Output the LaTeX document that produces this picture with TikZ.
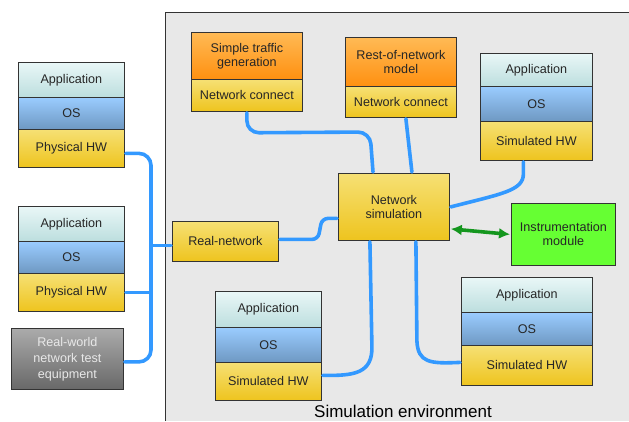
\documentclass[tikz,border=0pt]{standalone}
\usepackage{fontspec}
\setmainfont{Liberation Sans}
\usetikzlibrary{calc,arrows.meta}
\definecolor{wireblue}{HTML}{3399FF}
\definecolor{linkgreen}{HTML}{14961E}
\definecolor{envgray}{HTML}{E8E8E8}
\definecolor{boxedge}{HTML}{333333}
\definecolor{appTop}{HTML}{E9F7F7}
\definecolor{appBot}{HTML}{BCDEDE}
\definecolor{osTop}{HTML}{9ACCFF}
\definecolor{osBot}{HTML}{6E98C2}
\definecolor{hwTop}{HTML}{F6E074}
\definecolor{hwBot}{HTML}{EEC41E}
\definecolor{orTop}{HTML}{FFBA55}
\definecolor{orBot}{HTML}{FF9010}
\definecolor{instGreen}{HTML}{66FF33}
\definecolor{gyTop}{HTML}{ABABAB}
\definecolor{gyBot}{HTML}{686868}
\definecolor{gyText}{HTML}{E8E8E8}
\tikzset{
  layer/.style={draw=boxedge, line width=0.8pt, inner sep=0pt, anchor=north west,
    align=center, text=black!85, font=\fontsize{12.6}{14}\selectfont},
  applayer/.style={layer, top color=appTop, bottom color=appBot},
  oslayer/.style={layer, top color=osTop, bottom color=osBot},
  hwlayer/.style={layer, top color=hwTop, bottom color=hwBot},
  orangelayer/.style={layer, top color=orTop, bottom color=orBot},
  greenbox/.style={layer, fill=instGreen},
  graybox/.style={layer, top color=gyTop, bottom color=gyBot, text=gyText,
    font=\fontsize{12.6}{16}\selectfont},
  wire/.style={draw=wireblue, line width=3.6pt, line cap=round},
  glink/.style={draw=linkgreen, line width=3.6pt, {Latex[length=11pt,width=11pt]}-{Latex[length=11pt,width=11pt]}},
}
\begin{document}
\begin{tikzpicture}[x=1pt,y=-1pt]
\useasboundingbox (0,0) rectangle (629,421);
\fill[white] (0,0) rectangle (629,421);
% simulation environment area
\fill[envgray] (165,12) rectangle (629,421);
\draw[boxedge, line width=0.8pt] (165,421) -- (165,12) -- (629,12);
\node[font=\fontsize{17}{20}\selectfont, text=black] (envlabel) at (403,411) {Simulation environment};

% physical host 1
\node[applayer, minimum width=106pt, minimum height=35pt] (s1app) at (18,62) {Application};
\node[oslayer, minimum width=106pt, minimum height=32pt] (s1os) at (18,97) {OS};
\node[hwlayer, minimum width=106pt, minimum height=38pt] (s1hw) at (18,129) {Physical HW};
% physical host 2
\node[applayer, minimum width=106pt, minimum height=35pt] (s2app) at (18,206) {Application};
\node[oslayer, minimum width=106pt, minimum height=32pt] (s2os) at (18,241) {OS};
\node[hwlayer, minimum width=106pt, minimum height=38pt] (s2hw) at (18,273) {Physical HW};
% test equipment
\node[graybox, minimum width=112pt, minimum height=61pt] (rw) at (11,328) {Real-world\\network test\\equipment};

% real network gateway
\node[hwlayer, minimum width=106pt, minimum height=40pt] (rn) at (172,221) {Real-network};

% simple traffic generation
\node[orangelayer, minimum width=111pt, minimum height=47pt] (stg) at (191,32) {Simple traffic\\generation};
\node[hwlayer, minimum width=111pt, minimum height=32pt] (stgnc) at (191,79) {Network connect};
% rest-of-network model
\node[orangelayer, minimum width=111pt, minimum height=49pt] (ron) at (345,37) {Rest-of-network\\model};
\node[hwlayer, minimum width=111pt, minimum height=31pt] (ronnc) at (345,86) {Network connect};

% network simulation core
\node[hwlayer, minimum width=111pt, minimum height=67pt] (ns) at (338,173) {Network\\simulation};

% simulated host, top right
\node[applayer, minimum width=112pt, minimum height=33pt] (r1app) at (480,53) {Application};
\node[oslayer, minimum width=112pt, minimum height=35pt] (r1os) at (480,86) {OS};
\node[hwlayer, minimum width=112pt, minimum height=39pt] (r1hw) at (480,121) {Simulated HW};

% instrumentation
\node[greenbox, minimum width=104pt, minimum height=62pt] (im) at (511,203) {Instrumentation\\module};

% simulated host, bottom middle
\node[applayer, minimum width=106pt, minimum height=36pt] (bmapp) at (215,291) {Application};
\node[oslayer, minimum width=106pt, minimum height=35pt] (bmos) at (215,327) {OS};
\node[hwlayer, minimum width=106pt, minimum height=38pt] (bmhw) at (215,362) {Simulated HW};

% simulated host, bottom right
\node[applayer, minimum width=131pt, minimum height=35pt] (brapp) at (461,277) {Application};
\node[oslayer, minimum width=131pt, minimum height=33pt] (bros) at (461,312) {OS};
\node[hwlayer, minimum width=131pt, minimum height=40pt] (brhw) at (461,345) {Simulated HW};

% physical-side bus
\coordinate (bus) at (151,0);
\draw[wire, rounded corners=12pt] ($(s1hw.east)+(1,5)$) -- ($(bus |- s1hw.east)+(0,5)$)
  -- ($(bus |- rw.east)+(0,3)$) -- ($(rw.east)+(1,3)$);
\draw[wire] ($(s2hw.east)+(1,0)$) -- (bus |- s2hw.east);
\draw[wire] ($(rn.west)+(-1,4)$) -- ($(bus |- rn.west)+(0,4)$);

% links into the network simulation
\draw[wire, rounded corners=6pt] ($(rn.east)+(1,-2)$) -- ($(ns.west)+(-20,32.5)$)
  -- ($(ns.west)+(-16,11.5)$) -- ($(ns.west)+(-1,11.5)$);
\draw[wire, rounded corners=12pt] ($(stgnc.south)+(0,1)$) -- ($(stgnc.south)+(0,21)$)
  -- ($(ns.north west)+(32,-41)$) -- ($(ns.north west)+(35,-1)$);
\draw[wire] ($(ronnc.south)+(5,1)$) -- ($(ns.north)+(18,-1)$);
\draw[wire] ($(r1hw.south)+(-13,1)$) -- ($(r1hw.south)+(-13,13)$)
  .. controls ($(r1hw.south)+(-13,30)$) and ($(r1hw.south)+(-35,33)$) .. ($(ns.east)+(1,0)$);
\draw[wire] ($(ns.south)+(-24,1)$) -- ($(ns.south)+(-22,105)$)
  .. controls ($(ns.south)+(-21,133)$) and ($(ns.south)+(-40,135)$) .. ($(bmhw.east)+(1,-6)$);
\draw[wire] ($(ns.south)+(22,1)$) -- ($(ns.south)+(23,100)$)
  .. controls ($(ns.south)+(24,122)$) and ($(ns.south)+(36,123)$) .. ($(brhw.west)+(-1,-3)$);

% instrumentation link
\draw[glink] ($(ns.east)+(1,22)$) -- ($(im.west)+(-1,0)$);
\end{tikzpicture}
\end{document}
